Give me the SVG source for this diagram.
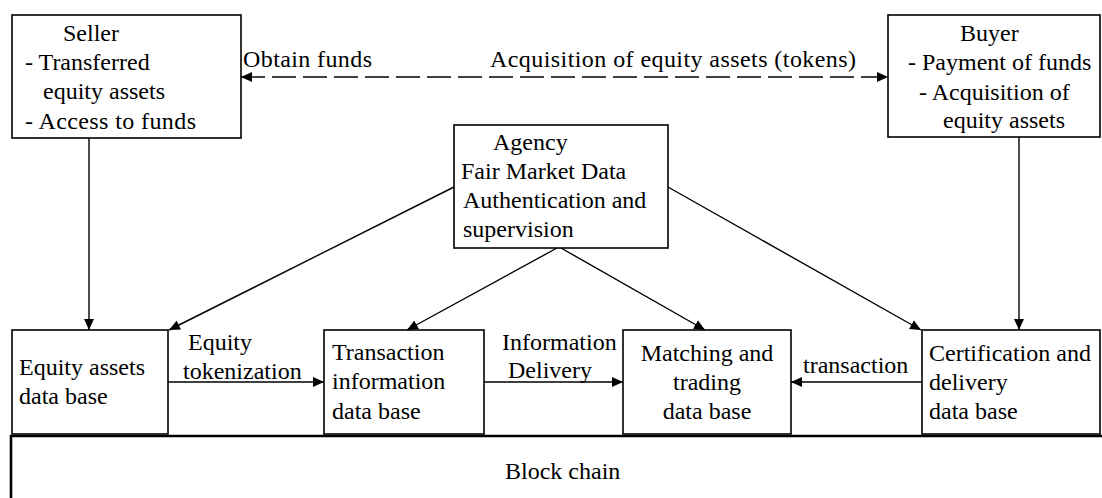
<svg xmlns="http://www.w3.org/2000/svg" width="1102" height="498" viewBox="0 0 1102 498">
<style>
.box{fill:#fff;stroke:#000;stroke-width:1.6}
.ln{fill:none;stroke:#000;stroke-width:1.4}
.dash{stroke-dasharray:24 7}
</style>
<defs>
<marker id="ah" viewBox="0 0 10 10" refX="10" refY="5" markerWidth="11" markerHeight="11" markerUnits="userSpaceOnUse" orient="auto-start-reverse">
<path d="M0,0.5 L10,5 L0,9.5 Z" fill="#000"/>
</marker>
</defs>
<rect width="1102" height="498" fill="#fff"/>
<g font-family="Liberation Serif, Times New Roman, serif" font-size="24" fill="#000">

<g id="blockchain">
<path d="M11,498 V436 H1102" fill="none" stroke="#000" stroke-width="2.6"/>
<text x="505" y="479">Block chain</text>
</g>

<g id="seller">
<rect class="box" x="12" y="15" width="229" height="123"/>
<text x="63" y="41">Seller</text>
<text x="25" y="70">- Transferred</text>
<text x="43" y="99">equity assets</text>
<text x="25" y="129" textLength="171" lengthAdjust="spacing">- Access to funds</text>
</g>

<g id="buyer">
<rect class="box" x="888" y="15" width="212" height="122"/>
<text x="960" y="41">Buyer</text>
<text x="908" y="70">- Payment of funds</text>
<text x="919" y="100">- Acquisition of</text>
<text x="943" y="128">equity assets</text>
</g>

<g id="agency">
<rect class="box" x="454" y="125" width="214" height="123"/>
<text x="493" y="150">Agency</text>
<text x="461" y="179">Fair Market Data</text>
<text x="463" y="208">Authentication and</text>
<text x="463" y="237">supervision</text>
</g>

<g id="equity">
<rect class="box" x="12" y="330" width="156" height="104"/>
<text x="19" y="375">Equity assets</text>
<text x="19" y="404">data base</text>
</g>

<g id="transaction">
<rect class="box" x="324" y="330" width="160" height="104"/>
<text x="332" y="360">Transaction</text>
<text x="332" y="389">information</text>
<text x="332" y="419">data base</text>
</g>

<g id="matching">
<rect class="box" x="623" y="330" width="168" height="104"/>
<text x="707" y="361" text-anchor="middle">Matching and</text>
<text x="707" y="390" text-anchor="middle">trading</text>
<text x="707" y="419" text-anchor="middle">data base</text>
</g>

<g id="certification">
<rect class="box" x="922" y="330" width="178" height="104"/>
<text x="929" y="361">Certification and</text>
<text x="929" y="390">delivery</text>
<text x="929" y="419">data base</text>
</g>

<g id="connectors">
<line class="ln dash" x1="241" y1="77" x2="888" y2="77" marker-start="url(#ah)" marker-end="url(#ah)"/>
<text x="243" y="67" textLength="129" lengthAdjust="spacing">Obtain funds</text>
<text x="490" y="67" textLength="366" lengthAdjust="spacing">Acquisition of equity assets (tokens)</text>
<line class="ln" x1="89" y1="138" x2="89" y2="330" marker-end="url(#ah)"/>
<line class="ln" x1="1019" y1="137" x2="1019" y2="330" marker-end="url(#ah)"/>
<line class="ln" x1="454" y1="187" x2="169" y2="330" marker-end="url(#ah)"/>
<line class="ln" x1="668" y1="187" x2="921" y2="330" marker-end="url(#ah)"/>
<line class="ln" x1="557" y1="248" x2="407" y2="330" marker-end="url(#ah)"/>
<line class="ln" x1="561" y1="248" x2="705" y2="330" marker-end="url(#ah)"/>
<line class="ln" x1="168" y1="382" x2="324" y2="382" marker-end="url(#ah)"/>
<text x="188" y="350">Equity</text>
<text x="183" y="379">tokenization</text>
<line class="ln" x1="484" y1="382" x2="623" y2="382" marker-end="url(#ah)"/>
<text x="502" y="350">Information</text>
<text x="508" y="378">Delivery</text>
<line class="ln" x1="922" y1="382" x2="791" y2="382" marker-end="url(#ah)"/>
<text x="803" y="373">transaction</text>
</g>
</g>
</svg>
